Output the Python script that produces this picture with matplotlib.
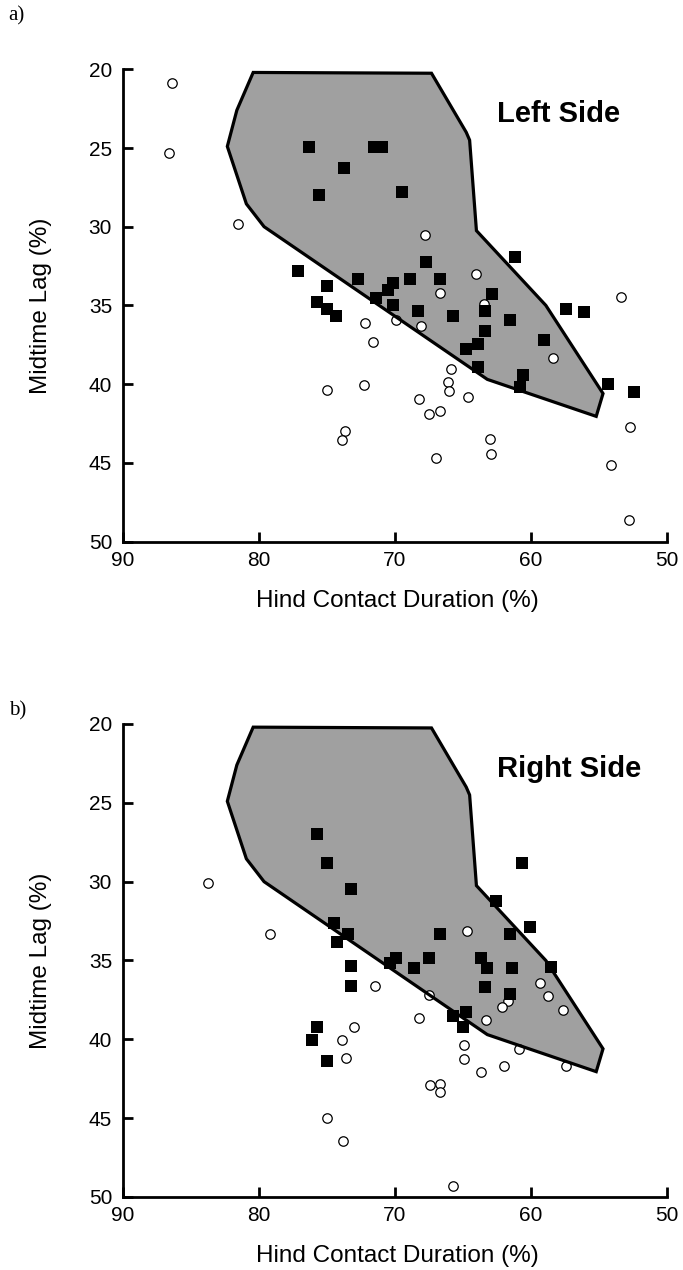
import matplotlib
matplotlib.use("Agg")
import matplotlib.pyplot as plt
from matplotlib.patches import Polygon

plt.rcParams["font.family"] = ["Liberation Sans", "DejaVu Sans"]

# envelope outline (hind contact %, midtime lag %), same on both sides
ENVELOPE_X = [80.4, 67.3, 64.75, 64.5, 64.0, 58.9, 54.7, 55.2, 63.2, 79.6, 80.9, 82.3, 81.6]
ENVELOPE_Y = [20.2, 20.25, 24.0, 24.5, 30.25, 35.0, 40.6, 42.05, 39.7, 30.0, 28.55, 24.9, 22.6]

# left side
LEFT_FILLED_X = [76.3, 71.5, 70.9, 73.7, 75.6, 69.5, 77.1, 75.0, 72.7, 75.7, 75.0, 74.3,
                 71.4, 70.5, 70.1, 70.1, 67.7, 68.9, 66.65, 62.85, 61.15, 68.3, 65.7, 63.4,
                 61.5, 57.4, 56.1, 63.4, 59.0, 63.9, 64.8, 63.9, 60.6, 60.8, 54.3, 52.45]
LEFT_FILLED_Y = [24.95, 24.95, 24.95, 26.3, 28.0, 27.8, 32.8, 33.75, 33.35, 34.8, 35.2, 35.7,
                 34.5, 34.05, 33.6, 35.0, 32.25, 33.3, 33.3, 34.3, 31.95, 35.35, 35.7, 35.35,
                 35.9, 35.2, 35.4, 36.6, 37.2, 37.45, 37.75, 38.9, 39.4, 40.2, 40.0, 40.5]
LEFT_OPEN_X = [86.35, 86.6, 81.55, 72.15, 71.6, 69.9, 67.8, 64.0, 66.65, 63.45, 68.1, 53.4,
               58.4, 65.85, 66.1, 66.0, 64.6, 68.2, 66.65, 67.45, 63.0, 62.95, 67.0, 52.75,
               54.15, 52.8, 74.95, 72.25, 73.65, 73.9]
LEFT_OPEN_Y = [20.9, 25.3, 29.8, 36.1, 37.3, 35.9, 30.5, 33.0, 34.2, 34.9, 36.3, 34.45,
               38.35, 39.05, 39.85, 40.45, 40.8, 40.95, 41.7, 41.9, 43.5, 44.45, 44.7, 42.75,
               45.15, 48.65, 40.4, 40.05, 43.0, 43.55]

# right side
RIGHT_FILLED_X = [75.7, 75.0, 73.2, 74.45, 73.4, 74.25, 73.2, 73.2, 70.35, 69.9, 60.65, 62.55,
                  66.7, 61.55, 60.05, 68.6, 67.45, 63.65, 63.2, 61.35, 58.55, 63.35, 61.55,
                  64.75, 65.7, 64.95, 75.7, 76.05, 75.0]
RIGHT_FILLED_Y = [27.0, 28.8, 30.45, 32.6, 33.3, 33.85, 35.35, 36.6, 35.15, 34.85, 28.8, 31.25,
                  33.3, 33.3, 32.85, 35.45, 34.85, 34.85, 35.5, 35.5, 35.4, 36.65, 37.15,
                  38.25, 38.55, 39.2, 39.2, 40.05, 41.4]
RIGHT_OPEN_X = [83.7, 79.2, 71.45, 64.7, 59.3, 58.75, 67.5, 57.65, 61.7, 62.1, 63.3, 68.2,
                64.9, 64.9, 63.65, 61.95, 60.9, 57.45, 67.4, 66.65, 66.65, 65.7, 73.0, 73.85,
                73.55, 75.0, 73.8]
RIGHT_OPEN_Y = [30.1, 33.35, 36.6, 33.1, 36.45, 37.25, 37.2, 38.15, 37.55, 37.95, 38.8, 38.65,
                40.35, 41.25, 42.05, 41.7, 40.6, 41.7, 42.9, 42.85, 43.35, 49.3, 39.2, 40.05,
                41.2, 45.0, 46.45]

X_TICKS = [90, 80, 70, 60, 50]
Y_TICKS = [20, 25, 30, 35, 40, 45, 50]

W, H = 683, 1270


def draw_panel(ax, filled_x, filled_y, open_x, open_y, title):
    verts = list(zip(ENVELOPE_X, ENVELOPE_Y))
    ax.add_patch(Polygon(verts, closed=True, facecolor="#a0a0a0",
                         edgecolor="none", zorder=1))
    ax.plot(open_x, open_y, "o", markersize=6.8, markerfacecolor="white",
            markeredgecolor="black", markeredgewidth=0.9, zorder=2)
    ax.add_patch(Polygon(verts, closed=True, facecolor="none",
                         edgecolor="black", linewidth=2.3, joinstyle="miter", zorder=3))
    ax.plot(filled_x, filled_y, "s", markersize=8, color="black",
            markeredgewidth=0, zorder=4)

    ax.set_xlim(90, 50)
    ax.set_ylim(50, 20)
    ax.set_xticks(X_TICKS)
    ax.set_yticks(Y_TICKS)
    ax.tick_params(direction="in", length=7, width=2, labelsize=15)
    ax.tick_params(axis="x", pad=6.5)
    ax.tick_params(axis="y", pad=7.5)
    for side in ["top", "right"]:
        ax.spines[side].set_visible(False)
    for side in ["left", "bottom"]:
        ax.spines[side].set_linewidth(2)

    ax.set_xlabel("Hind Contact Duration (%)", fontsize=17.5)
    ax.set_ylabel("Midtime Lag (%)", fontsize=17.5)
    ax.xaxis.set_label_coords(0.504, -0.102)
    ax.yaxis.set_label_coords(-0.13, 0.5)

    ax.text(62.46, 23.33, title, ha="left", va="baseline",
            fontsize=21, fontweight="bold")


fig = plt.figure(figsize=(W / 100, H / 100), dpi=100)

left = 122.5 / W
width = (667 - 122.5) / W
ax_top = fig.add_axes([left, 1 - 541.5 / H, width, (541.5 - 69.3) / H])
ax_bot = fig.add_axes([left, 1 - 1197 / H, width, (1197 - 724) / H])

draw_panel(ax_top, LEFT_FILLED_X, LEFT_FILLED_Y, LEFT_OPEN_X, LEFT_OPEN_Y, "Left Side")
draw_panel(ax_bot, RIGHT_FILLED_X, RIGHT_FILLED_Y, RIGHT_OPEN_X, RIGHT_OPEN_Y, "Right Side")

fig.text(8 / W, 1 - 16 / H, "a)", fontsize=15, family="Liberation Serif",
         ha="left", va="center")
fig.text(9 / W, 1 - 711 / H, "b)", fontsize=15, family="Liberation Serif",
         ha="left", va="center")

fig.savefig("out.png", dpi=100)
